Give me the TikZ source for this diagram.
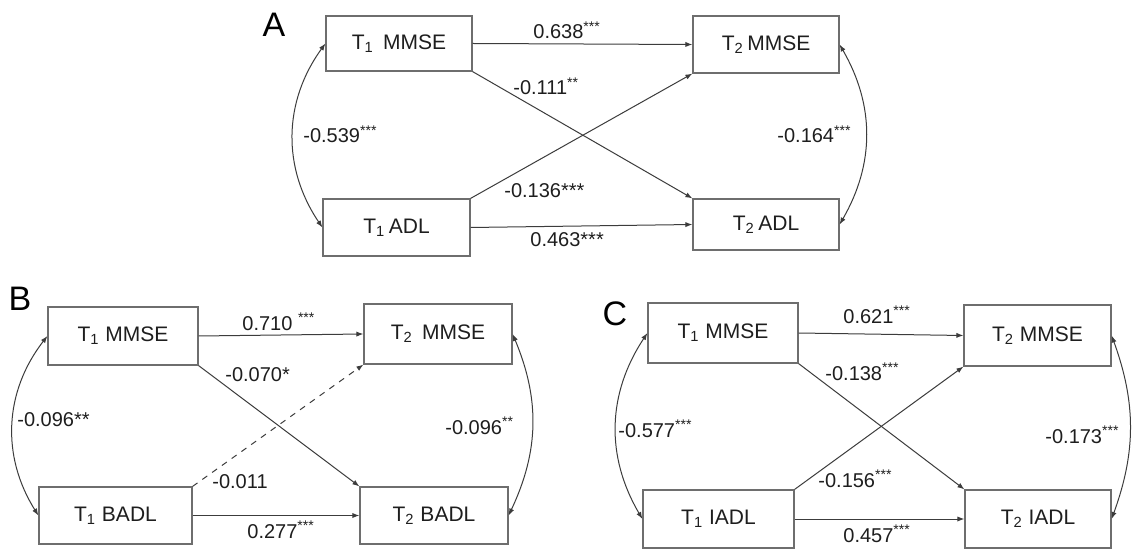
\documentclass[tikz,border=0pt]{standalone}
\usepackage{fontspec}
\setmainfont{Liberation Sans}
\usepackage{xcolor}
\usetikzlibrary{arrows.meta}
\definecolor{boxgray}{HTML}{6E6E6E}
\definecolor{linegray}{HTML}{3C3C3C}
\definecolor{txtgray}{HTML}{1E1E1E}

\begin{document}
\begin{tikzpicture}[x=0.5pt, y=-0.5pt,
    var/.style={draw=boxgray, line width=0.6pt, inner sep=0pt, text=txtgray, font=\fontsize{10.5}{12}\selectfont},
    coef/.style={anchor=base west, inner sep=0pt, text=txtgray, font=\fontsize{10}{12}\selectfont},
    panel/.style={inner sep=0pt, text=black, font=\fontsize{17}{20}\selectfont},
    reg/.style={-{Latex[length=3.5pt,width=2.6pt]}, draw=linegray, line width=0.5pt},
    cov/.style={{Latex[length=3.5pt,width=2.6pt]}-{Latex[length=3.5pt,width=2.6pt]}, draw=linegray, line width=0.5pt}]
    \fill[white] (0,0) rectangle (1139,550);
    \useasboundingbox (0,0) rectangle (1139,550);

    % Panel A
    \node[panel] (pA) at (274,25) {A};
    \node[var, minimum width=73pt, minimum height=27.5pt] (aT1m) at (399,43.5) {T\textsubscript{1}\hspace{0.45em}MMSE};
    \node[var, minimum width=73.5pt, minimum height=28.5pt] (aT1a) at (396.5,227.5) {T\textsubscript{1}\,ADL};
    \node[var, minimum width=73pt, minimum height=28.5pt] (aT2m) at (766,44.5) {T\textsubscript{2}\,MMSE};
    \node[var, minimum width=73pt, minimum height=25.5pt] (aT2a) at (766,224.5) {T\textsubscript{2}\,ADL};

    \draw[reg] (aT1m.east) -- (aT2m.west);
    \draw[reg] (aT1m.south east) -- (aT2a.north west);
    \draw[reg] (aT1a.north east) -- (aT2m.south west);
    \draw[reg] (aT1a.east) -- (aT2a.west);
    \draw[cov] (aT1m.west) to[bend right=35] (aT1a.west);
    \draw[cov] (aT2m.east) to[bend left=30] (aT2a.east);

    \node[coef] (aL1) at (533,39) {0.638\textsuperscript{***}};
    \node[coef] (aL2) at (513,95) {-0.111\textsuperscript{**}};
    \node[coef] (aL3) at (303,142.5) {-0.539\textsuperscript{***}};
    \node[coef] (aL4) at (777,143) {-0.164\textsuperscript{***}};
    \node[coef] (aL5) at (504,198) {-0.136***};
    \node[coef] (aL6) at (530,247) {0.463***};

    % Panel B
    \node[panel] (pB) at (20,299) {B};
    \node[var, minimum width=75pt, minimum height=29pt] (bT1m) at (123,336) {T\textsubscript{1} MMSE};
    \node[var, minimum width=76.5pt, minimum height=28.5pt] (bT1b) at (115.5,515.5) {T\textsubscript{1} BADL};
    \node[var, minimum width=74pt, minimum height=30pt] (bT2m) at (438,334) {T\textsubscript{2}\hspace{0.45em}MMSE};
    \node[var, minimum width=74pt, minimum height=28.5pt] (bT2b) at (434,515.5) {T\textsubscript{2} BADL};

    \draw[reg] (bT1m.east) -- (bT2m.west);
    \draw[reg] (bT1m.south east) -- (bT2b.north west);
    \draw[reg, dashed] (bT1b.north east) -- (bT2m.south west);
    \draw[reg] (bT1b.east) -- (bT2b.west);
    \draw[cov] (bT1m.west) to[bend right=35] (bT1b.west);
    \draw[cov] (bT2m.east) to[bend left=24] (bT2b.east);

    \node[coef] (bL1) at (242,330) {0.710 \textsuperscript{***}};
    \node[coef] (bL2) at (225,381) {-0.070*};
    \node[coef] (bL3) at (17,426.5) {-0.096**};
    \node[coef] (bL4) at (445,434) {-0.096\textsuperscript{**}};
    \node[coef] (bL5) at (212,488) {-0.011};
    \node[coef] (bL6) at (247,538) {0.277\textsuperscript{***}};

    % Panel C
    \node[panel] (pC) at (615,314) {C};
    \node[var, minimum width=75pt, minimum height=30pt] (cT1m) at (723,333) {T\textsubscript{1} MMSE};
    \node[var, minimum width=75.5pt, minimum height=29pt] (cT1i) at (718.5,519) {T\textsubscript{1} IADL};
    \node[var, minimum width=73.5pt, minimum height=30.5pt] (cT2m) at (1037.5,335.5) {T\textsubscript{2} MMSE};
    \node[var, minimum width=73pt, minimum height=29pt] (cT2i) at (1038,519) {T\textsubscript{2} IADL};

    \draw[reg] (cT1m.east) -- (cT2m.west);
    \draw[reg] (cT1m.south east) -- (cT2i.north west);
    \draw[reg] (cT1i.north east) -- (cT2m.south west);
    \draw[reg] (cT1i.east) -- (cT2i.west);
    \draw[cov] (cT1m.west) to[bend right=32] (cT1i.west);
    \draw[cov] (cT2m.east) to[bend left=20] (cT2i.east);

    \node[coef] (cL1) at (843,323) {0.621\textsuperscript{***}};
    \node[coef] (cL2) at (825,380) {-0.138\textsuperscript{***}};
    \node[coef] (cL3) at (618,437) {-0.577\textsuperscript{***}};
    \node[coef] (cL4) at (1045,443) {-0.173\textsuperscript{***}};
    \node[coef] (cL5) at (818,487) {-0.156\textsuperscript{***}};
    \node[coef] (cL6) at (843,542) {0.457\textsuperscript{***}};
\end{tikzpicture}
\end{document}
